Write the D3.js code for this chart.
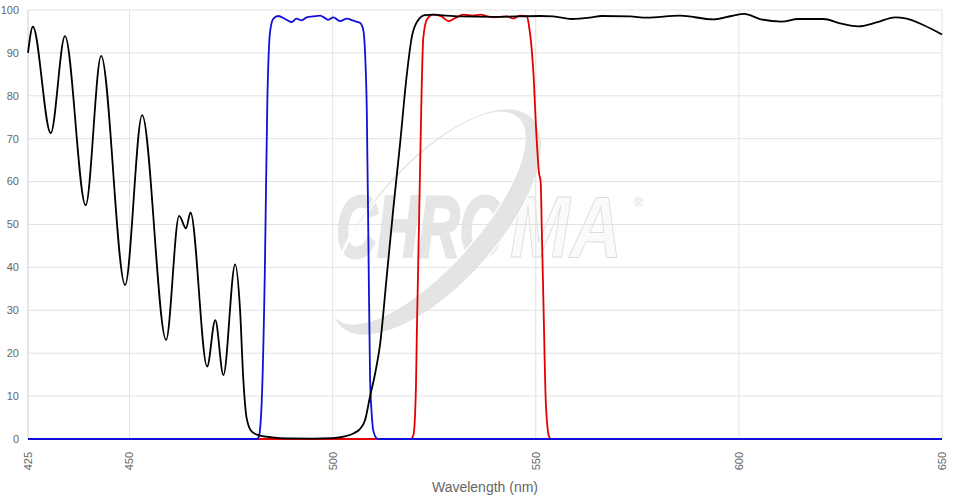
<!DOCTYPE html>
<html>
<head>
<meta charset="utf-8">
<script src="https://cdn.jsdelivr.net/npm/d3@7"></script>
<style>
  body { margin: 0; background: #fff; }
  text { font-family: Arial, "Liberation Sans", sans-serif; }
</style>
</head>
<body>
<script>
const width = 957,
    height = 501

const margin = { top: 10, right: 15, bottom: 62, left: 28 }

// wavelength (nm) / transmission (%) per filter
const blackNm = [425, 426.2, 430.6, 434.1, 439.2, 443.0, 448.9, 453.1, 459.0, 462.2, 463.9, 465.0, 469.1, 471.1, 473.1, 476.0, 477.2, 478.0, 478.8, 480.1, 482.1, 485, 488.7, 495, 500, 503, 505.1, 506.7, 508, 509.2, 510.5, 511.7, 513.3, 514.9, 516.6, 518.2, 519.5, 521.1, 522.7, 524.8, 526.4, 531.3, 539.5, 545, 551, 554.3, 558.8, 563.3, 566.2, 573.2, 577.3, 585.5, 593.7, 598.2, 601.3, 605.2, 610.5, 614.6, 620.8, 624.9, 629.4, 633.9, 638.4, 641.3, 645.4, 650]
const blackVal = [90, 96.1, 71.3, 93.9, 54.5, 89.3, 35.9, 75.5, 23.1, 52.0, 49.1, 52.8, 16.9, 27.7, 14.9, 40.7, 30.1, 14, 5, 1.7, 0.8, 0.4, 0.15, 0.1, 0.2, 0.6, 1.3, 2.3, 4.5, 9.9, 15.5, 22.3, 37.8, 53.4, 68.9, 84.5, 93.8, 97.7, 98.8, 98.9, 98.8, 98.5, 98.4, 98.5, 98.6, 98.5, 97.9, 98.2, 98.6, 98.5, 98.2, 98.7, 97.8, 98.6, 99.1, 97.9, 97.3, 97.9, 97.9, 96.9, 96.2, 97.1, 98.3, 98.0, 96.5, 94.3]

const blueNm = [425, 481.3, 481.8, 482.5, 483.3, 483.9, 484.6, 485.4, 486.6, 488.3, 489.9, 491.1, 492.4, 493.6, 495.2, 496.9, 498.1, 498.9, 500.2, 501.8, 503.5, 505.1, 506.7, 507.5, 508.0, 508.4, 508.8, 509.2, 509.6, 510.0, 510.8, 511.3, 650]
const blueVal = [0, 0, 0.5, 7.9, 39, 77.9, 95, 98, 98.6, 97.9, 97.2, 98.0, 97.6, 98.3, 98.5, 98.7, 98.1, 97.7, 98.3, 97.4, 98.0, 97.5, 97.0, 95.5, 89.5, 76.7, 45.7, 14.5, 6, 2, 0.2, 0, 0]

const redNm = [425, 519.2, 519.9, 520.5, 520.7, 521.5, 522.3, 523.2, 524.8, 526.8, 528.5, 530.1, 532.2, 534.6, 536.3, 539.5, 542.8, 544.5, 546.1, 547.8, 548.3, 549.4, 550.2, 550.8, 551.2, 551.5, 551.9, 552.5, 553.3, 553.8, 650]
const redVal = [0, 0, 1, 12, 23.5, 62.3, 93.4, 97.8, 98.9, 98.5, 97.4, 98.1, 98.9, 98.7, 98.9, 98.3, 98.5, 98.0, 98.7, 98.5, 96.5, 85.6, 70.1, 62, 60, 48, 31.2, 7.9, 0.5, 0, 0]

const xTicks = [425, 450, 500, 550, 600, 650]
const yTicks = [0, 10, 20, 30, 40, 50, 60, 70, 80, 90, 100]

const svg = d3.select("body")
    .append("svg")
    .attr("width", width)
    .attr("height", height)

const x = d3.scaleLinear()
    .domain([425, 650])
    .range([margin.left, width - margin.right])

const y = d3.scaleLinear()
    .domain([0, 100])
    .range([height - margin.bottom, margin.top])

// watermark
const wm = svg.append("g")
const ell = (cx, cy, rx, ry) => `M${cx - rx},${cy}a${rx},${ry} 0 1,0 ${2 * rx},0a${rx},${ry} 0 1,0 ${-2 * rx},0Z`
wm.append("text")
    .attr("x", 336).attr("y", 257)
    .attr("font-size", 88).attr("font-weight", "bold").attr("font-style", "italic")
    .attr("textLength", 168).attr("lengthAdjust", "spacingAndGlyphs")
    .attr("fill", "#e5e5e5").attr("stroke", "#e5e5e5").attr("stroke-width", 3)
    .text("CHRO")
wm.append("text")
    .attr("x", 510).attr("y", 257)
    .attr("font-size", 88).attr("font-weight", "bold").attr("font-style", "italic")
    .attr("textLength", 112).attr("lengthAdjust", "spacingAndGlyphs")
    .attr("fill", "#fafafa").attr("stroke", "#dcdcdc").attr("stroke-width", 1)
    .text("MA")
wm.append("path")
    .attr("transform", "translate(436,222) rotate(-48)")
    .attr("d", ell(0, 0, 142, 62) + ell(-3, -9, 135, 50))
    .attr("fill-rule", "evenodd")
    .attr("fill", "#e4e4e4")
    .attr("stroke", "#fff")
    .attr("stroke-width", 1.5)
wm.append("text")
    .attr("x", 634).attr("y", 207)
    .attr("font-size", 13)
    .attr("fill", "#dddddd")
    .text("®")

// grid
svg.append("g")
    .selectAll("line")
    .data(yTicks)
    .join("line")
    .attr("x1", margin.left).attr("x2", width - margin.right)
    .attr("y1", d => y(d)).attr("y2", d => y(d))
    .attr("stroke", "#e2e2e2")

svg.append("g")
    .selectAll("line")
    .data(xTicks)
    .join("line")
    .attr("x1", d => x(d)).attr("x2", d => x(d))
    .attr("y1", margin.top).attr("y2", height - margin.bottom)
    .attr("stroke", d => d === 425 ? "#cccccc" : "#e2e2e2")

// tick labels
svg.append("g")
    .selectAll("text")
    .data(yTicks)
    .join("text")
    .attr("x", 19)
    .attr("y", d => y(d))
    .attr("dy", "0.35em")
    .attr("text-anchor", "end")
    .attr("font-size", 11)
    .attr("fill", "#666")
    .text(d => d)

svg.append("g")
    .selectAll("text")
    .data(xTicks)
    .join("text")
    .attr("transform", d => `translate(${x(d)},${height - margin.bottom + 13}) rotate(-90)`)
    .attr("dy", "0.35em")
    .attr("text-anchor", "end")
    .attr("font-size", 11)
    .attr("fill", "#666")
    .text(d => d)

svg.append("text")
    .attr("x", (margin.left + width - margin.right) / 2)
    .attr("y", 492)
    .attr("text-anchor", "middle")
    .attr("font-size", 14)
    .attr("fill", "#666")
    .text("Wavelength (nm)")

// lines
const line = d3.line()
    .x(d => x(d[0]))
    .y(d => y(d[1]))
    .curve(d3.curveMonotoneX)

const series = [
    { nm: redNm, val: redVal, color: "#e30000" },
    { nm: blueNm, val: blueVal, color: "#1010d8" },
    { nm: blackNm, val: blackVal, color: "#000000" }
]

svg.append("g")
    .selectAll("path")
    .data(series)
    .join("path")
    .attr("d", s => line(d3.zip(s.nm, s.val)))
    .attr("fill", "none")
    .attr("stroke", s => s.color)
    .style("stroke-width", "1.8px")
</script>
</body>
</html>
